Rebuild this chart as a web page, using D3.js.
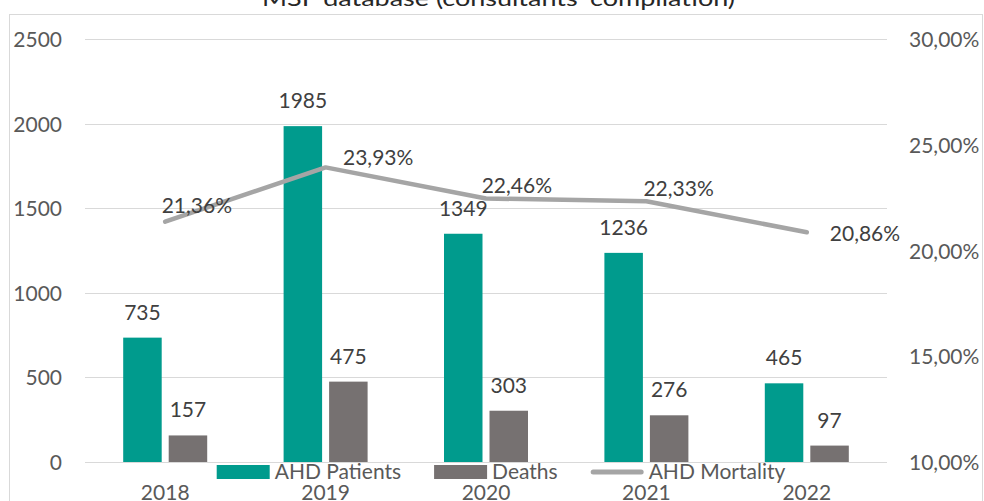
<!DOCTYPE html>
<html>
<head>
<meta charset="utf-8">
<script src="https://cdn.jsdelivr.net/npm/d3@7"></script>
<style>
  html, body { margin: 0; padding: 0; background: #fff; }
  svg { display: block; }
  text { font-family: Lato, "Noto Sans", sans-serif; }
</style>
</head>
<body>
<svg id="chart" width="984" height="501"></svg>
<script>
// ---- data ----
const years = ["2018", "2019", "2020", "2021", "2022"];
const ahdPatients = [735, 1985, 1349, 1236, 465];
const deaths = [157, 475, 303, 276, 97];
const mortality = [21.36, 23.93, 22.46, 22.33, 20.86];
const leftTicks = [0, 500, 1000, 1500, 2000, 2500];
const rightTicks = [10, 15, 20, 25, 30];
const seriesNames = ["AHD Patients", "Deaths", "AHD Mortality"];
const title = "MSF database (consultants' compilation)";
// label placement for the mortality line labels (dx to text start, dy to baseline)
const lineLabelOffsets = [[-3.5, -8.7], [17.4, -2.4], [-4.3, -5.8], [-3, -5.6], [23, 9]];

// ---- styles ----
const teal = "#009B8D";
const grey = "#767171";
const lineCol = "#A5A5A5";
const gridCol = "#D9D9D9";
const labelCol = "#404040";
const axisCol = "#595959";
const fontSize = 21;

const svg = d3.select("#chart");

// frame
svg.append("rect")
  .attr("x", 9.5).attr("y", 14.5).attr("width", 973).attr("height", 520)
  .attr("fill", "none").attr("stroke", gridCol).attr("stroke-width", 1);

// title (clipped at top in reference)
svg.append("text")
  .attr("x", 498.5).attr("y", 6)
  .attr("text-anchor", "middle")
  .attr("font-family", "'DejaVu Sans', sans-serif")
  .attr("font-size", 21)
  .attr("fill", "#262626")
  .attr("textLength", 473)
  .attr("lengthAdjust", "spacingAndGlyphs")
  .text(title);

// scales
const plotLeft = 85, plotRight = 887, plotTop = 39, plotBottom = 462;
const x0 = d3.scaleBand().domain(years).range([plotLeft, plotRight]).padding(0);
const x1 = d3.scaleBand().domain(["AHD Patients", "Deaths"]).range([-42, 42]).paddingInner(0.154);
const yL = d3.scaleLinear().domain([0, 2500]).range([plotBottom, plotTop]);
const yR = d3.scaleLinear().domain([10, 30]).range([plotBottom, plotTop]);
const cx = d => x0(d) + x0.bandwidth() / 2;

// gridlines
svg.append("g").selectAll("line").data(leftTicks).join("line")
  .attr("x1", plotLeft).attr("x2", plotRight)
  .attr("y1", d => Math.round(yL(d)) + 0.5).attr("y2", d => Math.round(yL(d)) + 0.5)
  .attr("stroke", gridCol).attr("stroke-width", 1);

// left axis labels
const leftAxis = d3.axisLeft(yL).tickValues(leftTicks).tickSize(0).tickPadding(0).tickFormat(d3.format("d"));
const gL = svg.append("g").attr("transform", "translate(62,0)").call(leftAxis);
gL.select(".domain").remove();
gL.selectAll("text").attr("font-family", "Lato, sans-serif").attr("font-size", fontSize).attr("fill", axisCol).attr("dy", "0.36em");

// right axis labels
const pctFmt = d3.formatLocale({decimal: ",", thousands: ".", grouping: [3], currency: ["", ""]}).format(".2f");
const rightAxis = d3.axisRight(yR).tickValues(rightTicks).tickSize(0).tickPadding(0).tickFormat(d => pctFmt(d) + "%");
const gR = svg.append("g").attr("transform", "translate(909,0)").call(rightAxis);
gR.select(".domain").remove();
gR.selectAll("text").attr("font-family", "Lato, sans-serif").attr("font-size", fontSize).attr("fill", axisCol).attr("dy", "0.36em");

// bars
const barData = [];
years.forEach((y, i) => {
  barData.push({year: y, series: "AHD Patients", value: ahdPatients[i], color: teal});
  barData.push({year: y, series: "Deaths", value: deaths[i], color: grey});
});
svg.append("g").selectAll("rect").data(barData).join("rect")
  .attr("x", d => cx(d.year) + x1(d.series))
  .attr("width", x1.bandwidth())
  .attr("y", d => yL(d.value))
  .attr("height", d => yL(0) - yL(d.value))
  .attr("fill", d => d.color);

// bar labels
svg.append("g").selectAll("text").data(barData).join("text")
  .attr("x", d => cx(d.year) + x1(d.series) + x1.bandwidth() / 2)
  .attr("y", d => yL(d.value) - 18)
  .attr("text-anchor", "middle")
  .attr("font-size", fontSize)
  .attr("fill", labelCol)
  .text(d => d3.format("d")(d.value));

// mortality line
const line = d3.line().x((d, i) => cx(years[i])).y(d => yR(d));
svg.append("path").datum(mortality)
  .attr("d", line)
  .attr("fill", "none").attr("stroke", lineCol).attr("stroke-width", 4.5)
  .attr("stroke-linecap", "round").attr("stroke-linejoin", "round");

// line labels
svg.append("g").selectAll("text").data(mortality).join("text")
  .attr("x", (d, i) => cx(years[i]) + lineLabelOffsets[i][0])
  .attr("y", (d, i) => yR(d) + lineLabelOffsets[i][1])
  .attr("font-size", fontSize)
  .attr("fill", labelCol)
  .text(d => pctFmt(d) + "%");

// x axis labels
const xAxis = d3.axisBottom(x0).tickSize(0).tickPadding(0);
const gX = svg.append("g").attr("transform", "translate(0,500)").call(xAxis);
gX.select(".domain").remove();
gX.selectAll("text").attr("font-family", "Lato, sans-serif").attr("font-size", fontSize).attr("fill", axisCol).attr("dy", 0).attr("y", 0);

// legend
const legend = svg.append("g");
const swatchW = 53, textGap = 5, itemGap = 33, legendBase = 479, legendCenter = 501;
const items = legend.selectAll("g").data(seriesNames).join("g");
items.append("text")
  .attr("font-size", fontSize).attr("fill", axisCol)
  .attr("y", legendBase)
  .text(d => d);
let widths = [];
items.select("text").each(function() { widths.push(this.getComputedTextLength()); });
const total = d3.sum(widths) + seriesNames.length * (swatchW + textGap) + (seriesNames.length - 1) * itemGap;
let cursor = legendCenter - total / 2;
items.each(function(d, i) {
  const g = d3.select(this);
  if (i < 2) {
    g.insert("rect", "text")
      .attr("x", cursor).attr("y", 465).attr("width", swatchW).attr("height", 14)
      .attr("fill", i === 0 ? teal : grey);
  } else {
    g.insert("line", "text")
      .attr("x1", cursor + 2.5).attr("x2", cursor + swatchW - 2.5)
      .attr("y1", 472).attr("y2", 472)
      .attr("stroke", lineCol).attr("stroke-width", 5).attr("stroke-linecap", "round");
  }
  g.select("text").attr("x", cursor + swatchW + textGap);
  cursor += swatchW + textGap + widths[i] + itemGap;
});
</script>
</body>
</html>
